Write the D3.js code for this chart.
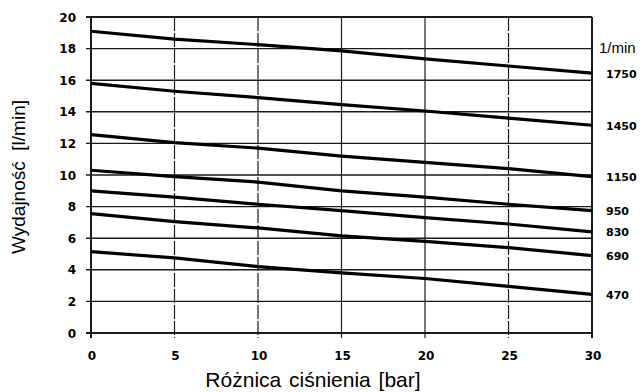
<!DOCTYPE html>
<html>
<head>
<meta charset="utf-8">
<script src="https://cdn.jsdelivr.net/npm/d3@7"></script>
<style>
  body { margin: 0; background: #fff; }
  svg { display: block; }
</style>
</head>
<body>
<div id="chart"></div>
<script>
// pressure difference [bar]
var pressure = [0, 5, 10, 15, 20, 25, 30];
// speed of each curve [1/min]
var speeds = ["1750", "1450", "1150", "950", "830", "690", "470"];
// flow [l/min] read at each pressure
var flow1750 = [19.1, 18.6, 18.25, 17.85, 17.35, 16.9, 16.45];
var flow1450 = [15.8, 15.3, 14.9, 14.45, 14.05, 13.6, 13.15];
var flow1150 = [12.55, 12.05, 11.7, 11.2, 10.8, 10.4, 9.9];
var flow950 = [10.3, 9.9, 9.55, 9.0, 8.6, 8.15, 7.75];
var flow830 = [9.0, 8.6, 8.15, 7.75, 7.3, 6.9, 6.4];
var flow690 = [7.55, 7.05, 6.65, 6.15, 5.8, 5.4, 4.9];
var flow470 = [5.15, 4.75, 4.2, 3.8, 3.45, 2.95, 2.45];
var series = [flow1750, flow1450, flow1150, flow950, flow830, flow690, flow470];

var xTicks = [0, 5, 10, 15, 20, 25, 30];
var yTicks = [0, 2, 4, 6, 8, 10, 12, 14, 16, 18, 20];

var w = 644, h = 392;
var plotL = 91, plotR = 592, plotT = 17, plotB = 333;

var svg = d3.select('#chart').append('svg')
  .attr('width', w)
  .attr('height', h);

var x = d3.scaleLinear().domain([0, 30]).range([plotL, plotR]);
var y = d3.scaleLinear().domain([0, 20]).range([plotB, plotT]);

// horizontal grid
svg.selectAll('line.hgrid')
  .data(yTicks)
  .enter().append('line')
  .attr('class', 'hgrid')
  .attr('x1', plotL - 5)
  .attr('x2', plotR)
  .attr('y1', function(d) { return y(d); })
  .attr('y2', function(d) { return y(d); })
  .attr('stroke', '#1a1a1a')
  .attr('stroke-width', function(d) { return d == 0 || d == 20 ? 2 : 1.4; });

// vertical grid
svg.selectAll('line.vgrid')
  .data(xTicks)
  .enter().append('line')
  .attr('class', 'vgrid')
  .attr('x1', function(d) { return x(d); })
  .attr('x2', function(d) { return x(d); })
  .attr('y1', plotT)
  .attr('y2', plotB + 5)
  .attr('stroke', '#1a1a1a')
  .attr('stroke-dasharray', function(d) { return (d == 5 || d == 10 || d == 25) ? '14,2' : null; })
  .attr('stroke-width', function(d) { return d == 0 || d == 30 ? 2 : 1.2; });

// y tick labels
svg.selectAll('text.ylab')
  .data(yTicks)
  .enter().append('text')
  .attr('class', 'ylab')
  .attr('x', plotL - 15)
  .attr('y', function(d) { return y(d) + 4.5; })
  .attr('text-anchor', 'end')
  .style('font-family', 'DejaVu Sans')
  .style('font-weight', 'bold')
  .style('font-size', '12px')
  .text(function(d) { return d; });

// x tick labels
svg.selectAll('text.xlab')
  .data(xTicks)
  .enter().append('text')
  .attr('class', 'xlab')
  .attr('x', function(d) { return x(d) + 1; })
  .attr('y', 360)
  .attr('text-anchor', 'middle')
  .style('font-family', 'DejaVu Sans')
  .style('font-weight', 'bold')
  .style('font-size', '12px')
  .text(function(d) { return d; });

// curves
var line = d3.line()
  .x(function(d, i) { return x(pressure[i]); })
  .y(function(d) { return y(d); });

svg.selectAll('path.curve')
  .data(series)
  .enter().append('path')
  .attr('class', 'curve')
  .attr('d', line)
  .attr('fill', 'none')
  .attr('stroke', '#000')
  .attr('stroke-width', 3.2);

// speed labels at the right end of each curve
svg.selectAll('text.speed')
  .data(series)
  .enter().append('text')
  .attr('class', 'speed')
  .attr('x', 606)
  .attr('y', function(d) { return y(d[d.length - 1]) + 4.5; })
  .style('font-family', 'DejaVu Sans')
  .style('font-weight', 'bold')
  .style('font-size', '11px')
  .text(function(d, i) { return speeds[i]; });

svg.append('text')
  .attr('x', 599)
  .attr('y', 53)
  .style('font-family', 'Liberation Sans')
  .style('font-size', '15px')
  .text('1/min');

// axis titles
svg.append('text')
  .attr('transform', 'translate(25,177) rotate(-90)')
  .attr('text-anchor', 'middle')
  .style('font-family', 'Liberation Sans')
  .style('font-size', '19px')
  .style('white-space', 'pre')
  .text('Wydajność  [l/min]');

svg.append('text')
  .attr('x', 313)
  .attr('y', 387)
  .attr('text-anchor', 'middle')
  .style('font-family', 'Liberation Sans')
  .style('font-size', '21px')
  .style('word-spacing', '2px')
  .text('Różnica ciśnienia [bar]');
</script>
</body>
</html>
